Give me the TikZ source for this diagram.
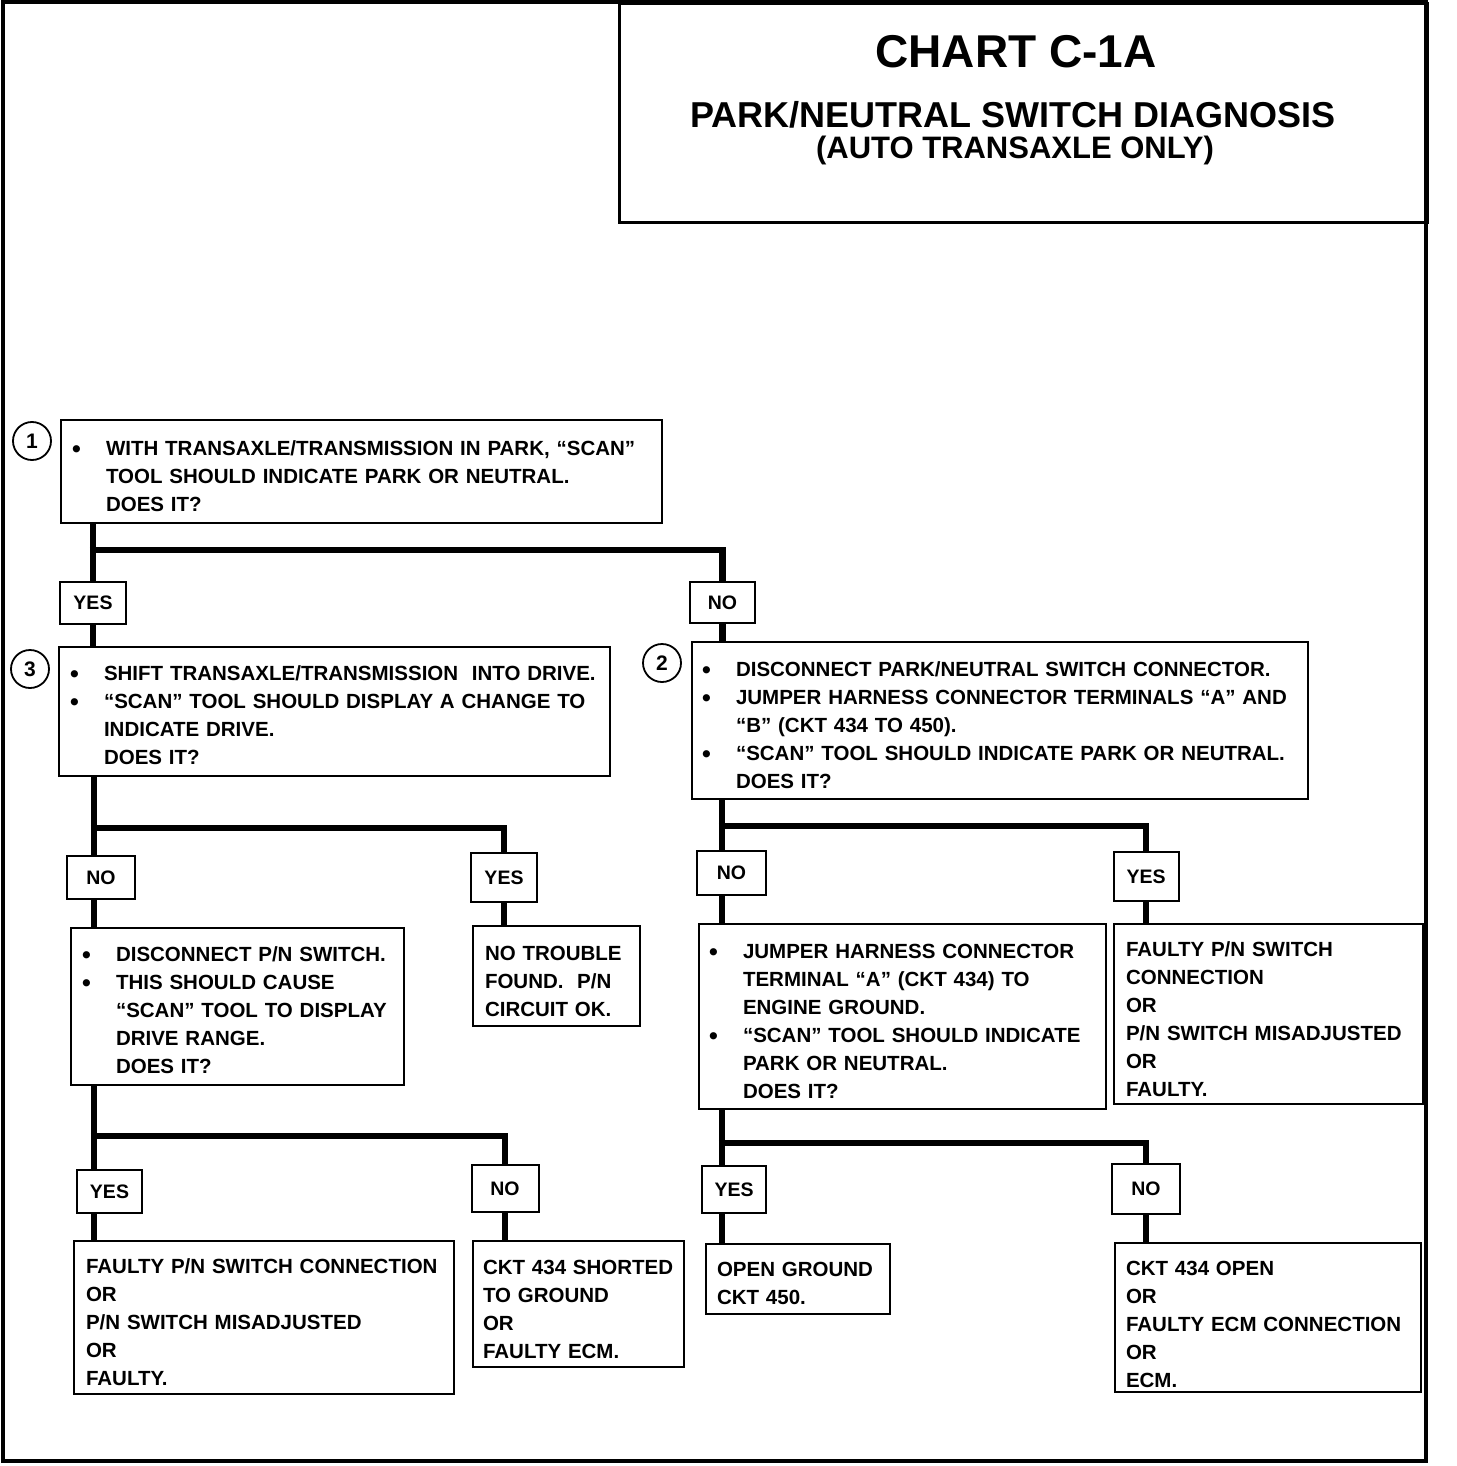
\documentclass[tikz,border=0pt]{standalone}
\usepackage{fontspec}
\setmainfont{Liberation Sans}
\newcommand\bul{\leavevmode\llap{\makebox[34pt][l]{\raisebox{-1.5pt}{\fontsize{25}{25}\selectfont •}}}}
\newcommand\chartbox[9]{\node[txtbox, minimum width=#4pt, minimum height=#5pt, text width=#4pt, text height=#7pt, text depth=#8pt] (#1) at (#2,#3) {\leftskip=#6pt #9\par};}
\tikzset{
  txtbox/.style={draw, line width=2pt, anchor=north west, inner sep=0pt, align=left,
    font=\fontsize{20.5}{28}\selectfont\bfseries},
  lab/.style={draw, line width=2pt, inner sep=0pt, font=\fontsize{19.5}{19.5}\selectfont\bfseries},
  numc/.style={circle, draw, line width=1.8pt, minimum size=38pt, inner sep=0pt,
    font=\fontsize{21}{21}\selectfont\bfseries},
  conn/.style={line width=6.5pt, line join=miter},
  frame/.style={line width=4pt}
}
\begin{document}
\begin{tikzpicture}[x=1pt,y=-1pt]
\useasboundingbox (0,0) rectangle (1456,1466);
\draw[frame] (3,2) rectangle (1426,1461);
% title
\node[draw, line width=3pt, minimum width=808pt, minimum height=219pt, anchor=north west, inner sep=0pt] (title) at (618,2) {};
\node[font=\fontsize{46}{46}\selectfont\bfseries] (t1) at (1016,52) {CHART C-1A};
\node[font=\fontsize{36}{36}\selectfont\bfseries] (t2) at (1013,115) {PARK/NEUTRAL SWITCH DIAGNOSIS};
\node[font=\fontsize{31}{31}\selectfont\bfseries] (t3) at (1015,150) {(AUTO TRANSAXLE ONLY)};
% number circles
\node[numc] (n1) at (32,441) {1};
\node[numc] (n3) at (30,669) {3};
\node[numc] (n2) at (662,663) {2};
% boxes
\chartbox{b1}{60}{419}{601}{103}{45}{35.5}{67.5}{\bul WITH TRANSAXLE/TRANSMISSION IN PARK, “SCAN”\\ TOOL SHOULD INDICATE PARK OR NEUTRAL.\\ DOES IT?}
\chartbox{b3}{58}{646}{551}{129}{45}{33.5}{95.5}{\bul SHIFT TRANSAXLE/TRANSMISSION\ \ INTO DRIVE.\\ \bul “SCAN” TOOL SHOULD DISPLAY A CHANGE TO\\ INDICATE DRIVE.\\ DOES IT?}
\chartbox{b2}{691}{641}{616}{157}{44}{34.5}{122.5}{\bul DISCONNECT PARK/NEUTRAL SWITCH CONNECTOR.\\ \bul JUMPER HARNESS CONNECTOR TERMINALS “A” AND\\ “B” (CKT 434 TO 450).\\ \bul “SCAN” TOOL SHOULD INDICATE PARK OR NEUTRAL.\\ DOES IT?}
\chartbox{b4}{70}{927}{333}{157}{45}{33.5}{123.5}{\bul DISCONNECT P/N SWITCH.\\ \bul THIS SHOULD CAUSE\\ “SCAN” TOOL TO DISPLAY\\ DRIVE RANGE.\\ DOES IT?}
\chartbox{b5}{472}{925}{167}{100}{12}{34.5}{65.5}{NO TROUBLE\\ FOUND.\ \ P/N\\ CIRCUIT OK.}
\chartbox{b7}{698}{923}{407}{185}{44}{34.5}{150.5}{\bul JUMPER HARNESS CONNECTOR\\ TERMINAL “A” (CKT 434) TO\\ ENGINE GROUND.\\ \bul “SCAN” TOOL SHOULD INDICATE\\ PARK OR NEUTRAL.\\ DOES IT?}
\chartbox{b8}{1113}{923}{309}{180}{12}{32.5}{147.5}{FAULTY P/N SWITCH\\ CONNECTION\\ OR\\ P/N SWITCH MISADJUSTED\\ OR\\ FAULTY.}
\chartbox{b9}{73}{1240}{380}{153}{12}{32.5}{120.5}{FAULTY P/N SWITCH CONNECTION\\ OR\\ P/N SWITCH MISADJUSTED\\ OR\\ FAULTY.}
\chartbox{b10}{472}{1240}{211}{126}{10}{33.5}{92.5}{CKT 434 SHORTED\\ TO GROUND\\ OR\\ FAULTY ECM.}
\chartbox{b11}{705}{1243}{184}{70}{11}{32.5}{37.5}{OPEN GROUND\\ CKT 450.}
\chartbox{b12}{1114}{1242}{306}{149}{11}{32.5}{116.5}{CKT 434 OPEN\\ OR\\ FAULTY ECM CONNECTION\\ OR\\ ECM.}
% yes/no labels
\node[lab, minimum width=66pt, minimum height=42pt] (L1) at (93,603) {YES};
\node[lab, minimum width=65pt, minimum height=41pt] (L2) at (722.5,602.5) {NO};
\node[lab, minimum width=68pt, minimum height=43pt] (L3) at (101,877.5) {NO};
\node[lab, minimum width=66pt, minimum height=49pt] (L4) at (504,877.5) {YES};
\node[lab, minimum width=69pt, minimum height=44pt] (L5) at (731.5,873) {NO};
\node[lab, minimum width=65pt, minimum height=49pt] (L6) at (1146,876.5) {YES};
\node[lab, minimum width=65pt, minimum height=43pt] (L7) at (109.5,1191.5) {YES};
\node[lab, minimum width=67pt, minimum height=47pt] (L8) at (505,1188.5) {NO};
\node[lab, minimum width=64pt, minimum height=47pt] (L9) at (734,1189.5) {YES};
\node[lab, minimum width=68pt, minimum height=50pt] (L10) at (1146,1189) {NO};
% junctions
\coordinate (j1) at (93,550);
\coordinate (j2) at (94,828);
\coordinate (j3) at (94,1136);
\coordinate (j4) at (722,826);
\coordinate (j5) at (722,1143);
% connectors
\draw[conn] (b1.south -| j1) -- (L1.north -| j1);
\draw[conn] ([xshift=-3.25pt]j1) -| (L2.north);
\draw[conn] (L1.south -| j1) -- (b3.north -| j1);
\draw[conn] (L2.south) -- (L2.south |- b2.north);
\draw[conn] (b3.south -| j2) -- (L3.north -| j2);
\draw[conn] ([xshift=-3.25pt]j2) -| (L4.north);
\draw[conn] (L3.south -| j2) -- (b4.north -| j2);
\draw[conn] (L4.south) -- (L4.south |- b5.north);
\draw[conn] (b4.south -| j3) -- (L7.north -| j3);
\draw[conn] ([xshift=-3.25pt]j3) -| (L8.north);
\draw[conn] (L7.south -| j3) -- (b9.north -| j3);
\draw[conn] (L8.south) -- (L8.south |- b10.north);
\draw[conn] (b2.south -| j4) -- (L5.north -| j4);
\draw[conn] ([xshift=-3.25pt]j4) -| (L6.north);
\draw[conn] (L5.south -| j4) -- (b7.north -| j4);
\draw[conn] (L6.south) -- (L6.south |- b8.north);
\draw[conn] (b7.south -| j5) -- (L9.north -| j5);
\draw[conn] ([xshift=-3.25pt]j5) -| (L10.north);
\draw[conn] (L9.south -| j5) -- (b11.north -| j5);
\draw[conn] (L10.south) -- (L10.south |- b12.north);
\end{tikzpicture}
\end{document}
